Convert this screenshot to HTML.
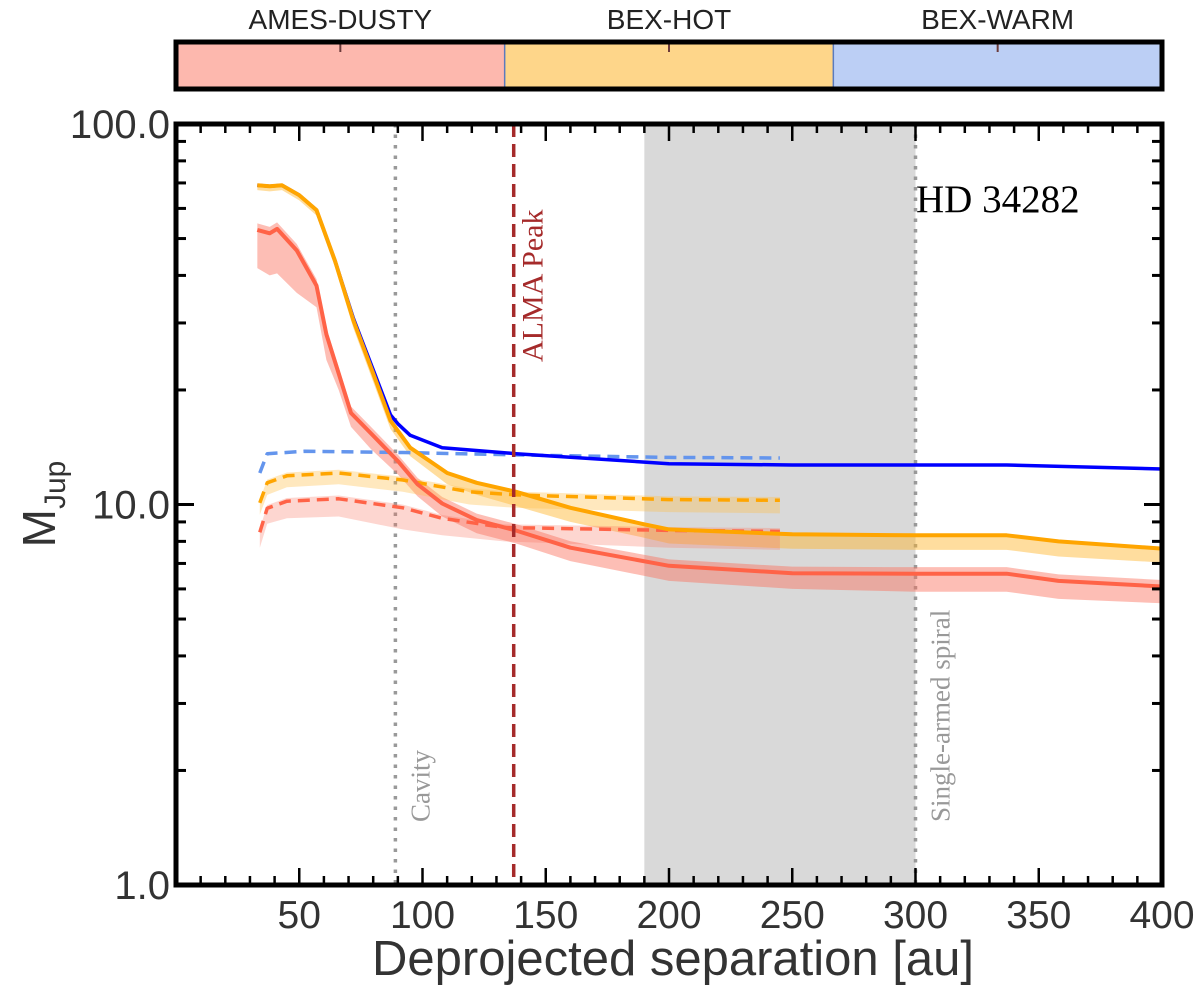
<!DOCTYPE html>
<html><head><meta charset="utf-8"><style>
html,body{margin:0;padding:0;background:#fff;}
svg{display:block;}
</style></head><body>
<svg id="chart" width="1200" height="993" xmlns="http://www.w3.org/2000/svg" font-family="Liberation Sans, sans-serif"></svg>
<script>
const auOrange=[33,38,43,50,57,64.5,72,80,87,95,110,122,138,160,189,200,250,300,337,358,400];
const valOrange=[69,68.6,69,65,59.4,43.7,30.4,22.1,16.6,14.1,12.1,11.4,10.8,9.8,8.9,8.6,8.35,8.3,8.3,8.0,7.66];
const loOrange=[67,66.5,67,63,57.5,42,29,21,15.8,13.4,11.3,10.6,9.9,9.0,8.2,7.9,7.65,7.6,7.6,7.3,7.04];
const auBlue=[33,38,43,50,57,64.5,72,80,87,90,95,108,138,200,250,300,337,400];
const valBlue=[69,68.6,69,65,59.4,43.7,30.8,22.6,17.2,16.3,15.2,14.1,13.6,12.8,12.7,12.7,12.7,12.4];
const auRed=[33,38,41,49,57,61,66,71,79,90,98,108,122,138,160,200,250,300,337,358,400];
const valRed=[52.7,51.6,53,46.5,37.6,28,22.1,17.4,15.4,13.0,11.3,10.06,9.1,8.54,7.7,6.9,6.6,6.58,6.58,6.3,6.09];
const loRed=[41.8,40,40.5,36,33,24,20,16,14,12,10.5,9.3,8.4,7.9,7.1,6.3,6.0,5.9,5.9,5.65,5.5];
const auBlueD=[34,37,52,92,138,200,245];
const valBlueD=[12.1,13.6,13.8,13.7,13.5,13.3,13.25];
const auOrangeD=[34,37,45,66,92,119,138,200,245];
const valOrangeD=[10.1,11.4,11.9,12.1,11.6,10.8,10.6,10.3,10.26];
const loOrangeD=[9.4,10.6,11.1,11.3,10.8,10.0,9.8,9.55,9.48];
const auRedD=[34,37,45,66,92,108,133,200,245];
const valRedD=[8.45,9.77,10.2,10.35,9.8,9.2,8.7,8.55,8.5];
const loRedD=[7.7,8.9,9.2,9.3,8.6,8.3,8.0,7.7,7.6];
const xTicks=[50,100,150,200,250,300,350,400];
const yTicks=[1,10,100];
const yTickLabels=["1.0","10.0","100.0"];
const modelNames=["AMES-DUSTY","BEX-HOT","BEX-WARM"];
const cavityAu=89, almaAu=137, spiralAu=300, bandStart=190, bandEnd=300;

const L=176,R=1162,T=124,B=885;
const NS="http://www.w3.org/2000/svg";
const svg=document.getElementById('chart');
function X(a){return L+(a/400)*(R-L);}
function Y(v){return B-(Math.log10(v)/2)*(B-T);}
function el(tag,attrs,parent){const e=document.createElementNS(NS,tag);for(const k in attrs)e.setAttribute(k,attrs[k]);(parent||svg).appendChild(e);return e;}
function pts(au,v){return au.map((a,i)=>X(a).toFixed(1)+','+Y(v[i]).toFixed(1)).join(' ');}
function band(au,lo,hi,fill,name){
  const d=au.map((a,i)=>X(a)+','+Y(hi[i])).concat(au.slice().reverse().map((a,j)=>{const i=au.length-1-j;return X(a)+','+Y(lo[i]);}));
  const p=el('polygon',{points:d.join(' '),fill:fill});
  
  
}
function line(au,v,color,w,dash,name){
  const a={points:pts(au,v),fill:'none',stroke:color,'stroke-width':w,'stroke-linejoin':'round'};
  if(dash)a['stroke-dasharray']=dash;
  const p=el('polyline',a);
  
  
}
// colorbar
const segCols=['#fdb8ae','#fed68a','#bccff5'];
const segW=(R-L)/3;
modelNames.forEach((n,i)=>{
  const r=el('rect',{x:L+i*segW,y:42,width:segW,height:47,fill:segCols[i]});
  
  
  const tk=el('line',{x1:L+(i+0.5)*segW,y1:42,x2:L+(i+0.5)*segW,y2:52,stroke:'#6b3a3a','stroke-width':2});
  
  
  const t=el('text',{x:L+(i+0.5)*segW,y:29,'text-anchor':'middle','font-size':28,fill:'#222'});
  t.textContent=n;
  
  
});
[1,2].forEach(i=>{el('line',{x1:L+i*segW,y1:42,x2:L+i*segW,y2:89,stroke:'#5a7bbf','stroke-width':1.5});});
const cb=el('rect',{x:L,y:42,width:R-L,height:47,fill:'none',stroke:'#000','stroke-width':5});


// gray band
const gb=el('rect',{x:X(bandStart),y:T,width:X(bandEnd)-X(bandStart),height:B-T,fill:'#d9d9d9'});


// vertical lines
const cl=el('line',{x1:X(cavityAu),y1:T,x2:X(cavityAu),y2:B,stroke:'#999','stroke-width':3.5,'stroke-dasharray':'3.5,7'});


const sl=el('line',{x1:X(spiralAu),y1:T,x2:X(spiralAu),y2:B,stroke:'#999','stroke-width':3.5,'stroke-dasharray':'3.5,7'});


// bands
band(auRed,loRed,valRed.map(v=>v*1.04),'rgba(250,110,90,0.45)','ames-dusty-band');
band(auOrange,loOrange,valOrange.map(v=>v*1.01),'rgba(255,180,40,0.45)','bex-hot-band');
band(auRedD,loRedD,valRedD.map(v=>v*1.02),'rgba(250,120,100,0.3)','ames-dusty-dashed-band');
band(auOrangeD,loOrangeD,valOrangeD.map(v=>v*1.02),'rgba(255,190,70,0.35)','bex-hot-dashed-band');
// lines
line(auBlueD,valBlueD,'#6495ed',3.5,'12,7','bex-warm-dashed-line');
line(auOrangeD,valOrangeD,'#ffa500',3.5,'12,7','bex-hot-dashed-line');
line(auRedD,valRedD,'#ff6347',3.5,'12,7','ames-dusty-dashed-line');
line(auBlue,valBlue,'#0000ff',3.5,null,'bex-warm-line');
line(auRed,valRed,'#ff6347',4,null,'ames-dusty-line');
line(auOrange,valOrange,'#ffa500',4,null,'bex-hot-line');
// alma line
const al=el('line',{x1:X(almaAu),y1:T,x2:X(almaAu),y2:B,stroke:'#a52a2a','stroke-width':3.5,'stroke-dasharray':'13,7'});


function vtext(x,y,txt,col,size,name){
  const t=el('text',{x:x,y:y,transform:`rotate(-90 ${x} ${y})`,'font-family':'Liberation Serif, serif','font-size':size,fill:col});
  t.textContent=txt;
  
  
}
vtext(X(almaAu)+29,362,'ALMA Peak','#a52a2a',30,'alma-peak-label');
vtext(X(cavityAu)+34,822,'Cavity','#999',27,'cavity-label');
vtext(X(spiralAu)+34,822,'Single-armed spiral','#999',27,'spiral-label');
const hd=el('text',{x:916,y:212,'font-family':'Liberation Serif, serif','font-size':39,fill:'#000'});
hd.textContent='HD 34282';


// ticks
for(let a=10;a<400;a+=10){
  const maj=a%50===0, len=maj?17:9;
  el('line',{x1:X(a),y1:B,x2:X(a),y2:B-len,stroke:'#000','stroke-width':2.5});
  el('line',{x1:X(a),y1:T,x2:X(a),y2:T+len,stroke:'#000','stroke-width':2.5});
}
for(let d=0;d<2;d++)for(let m=1;m<10;m++){
  const v=m*Math.pow(10,d); const maj=m===1; const len=maj?18:10;
  if(maj&&d===0)continue;
  el('line',{x1:L,y1:Y(v),x2:L+len,y2:Y(v),stroke:'#000','stroke-width':3});
  el('line',{x1:R,y1:Y(v),x2:R-len,y2:Y(v),stroke:'#000','stroke-width':3});
}
xTicks.forEach(a=>{
  const t=el('text',{x:X(a),y:928,'text-anchor':'middle','font-size':39,fill:'#333'});
  t.textContent=String(a);
  
  
});
yTicks.forEach((v,i)=>{
  const t=el('text',{x:170,y:Y(v)+14,'text-anchor':'end','font-size':40,fill:'#333'});
  t.textContent=yTickLabels[i];
  
  
});
const fr=el('rect',{x:L,y:T,width:R-L,height:B-T,fill:'none',stroke:'#000','stroke-width':5});


const xt=el('text',{x:673,y:975,'text-anchor':'middle','font-size':49,fill:'#333'});
xt.textContent='Deprojected separation [au]';


const yt=el('text',{x:55,y:504,transform:'rotate(-90 55 504)','text-anchor':'middle','font-size':46,fill:'#333'});
yt.innerHTML='M<tspan font-size="30" dy="10">Jup</tspan>';


</script>
</body></html>
